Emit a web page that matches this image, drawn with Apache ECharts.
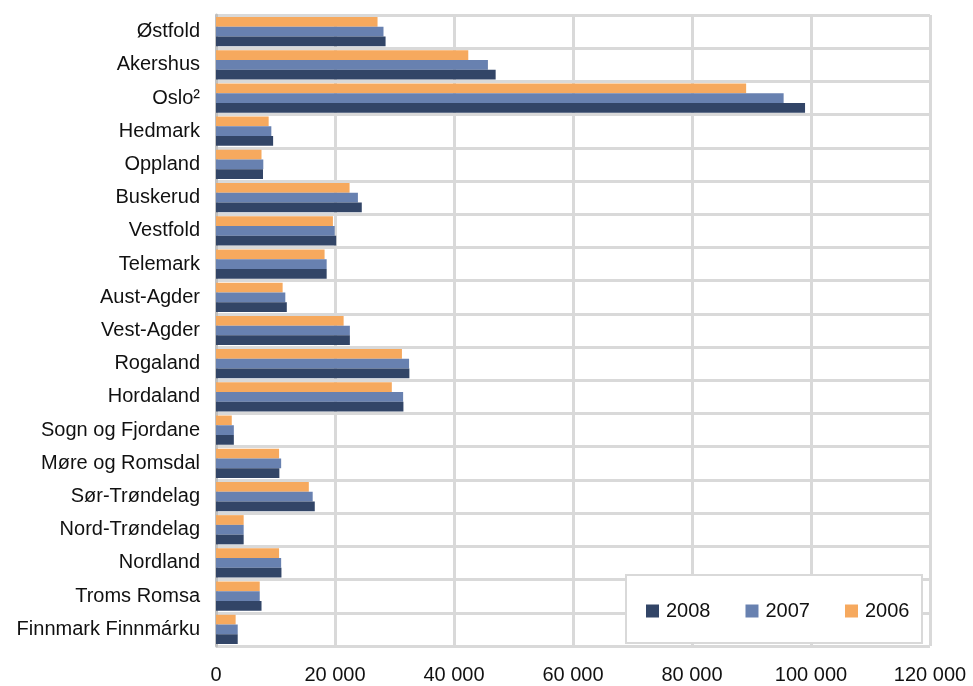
<!DOCTYPE html>
<html>
<head>
<meta charset="utf-8">
<script src="https://cdn.jsdelivr.net/npm/echarts@6/dist/echarts.min.js"></script>
<style>
	html, body { margin: 0; padding: 0; background: #fff; }
	#chart { width: 973px; height: 686px; }
</style>
</head>
<body>
<div id="chart"></div>
<script>
// fylker, ovenfra og ned
var fylker = ['Østfold', 'Akershus', 'Oslo²', 'Hedmark', 'Oppland', 'Buskerud', 'Vestfold',
	'Telemark', 'Aust-Agder', 'Vest-Agder', 'Rogaland', 'Hordaland', 'Sogn og Fjordane',
	'Møre og Romsdal', 'Sør-Trøndelag', 'Nord-Trøndelag', 'Nordland', 'Troms Romsa',
	'Finnmark Finnmárku'];

var aar = ['2008', '2007', '2006'];

var verdi2008 = [28500, 47000, 99000, 9600, 7900, 24500, 20200, 18600, 11900, 22500,
	32500, 31500, 3000, 10650, 16600, 4650, 11000, 7650, 3650];
var verdi2007 = [28150, 45700, 95400, 9300, 7950, 23850, 19950, 18600, 11650, 22500,
	32450, 31450, 3000, 10950, 16250, 4650, 10950, 7350, 3650];
var verdi2006 = [27150, 42400, 89100, 8850, 7650, 22450, 19650, 18250, 11200, 21450,
	31250, 29550, 2650, 10600, 15600, 4650, 10600, 7350, 3300];

var xTicks = { min: 0, max: 120000, interval: 20000 };

var farger = ['#324567', '#6881b0', '#f6a95e'];

var myChart = echarts.init(document.getElementById('chart'));

function tall(v) {
	return String(v).replace(/\B(?=(\d{3})+(?!\d))/g, ' ');
}

// 2006 øverst i hver gruppe, 2008 nederst
var serier = [verdi2008, verdi2007, verdi2006];
var seriesList = [];
for (var i = aar.length - 1; i >= 0; i--) {
	seriesList.push({
		name: aar[i],
		type: 'bar',
		data: serier[i],
		barGap: '0%',
		barCategoryGap: '12%',
		itemStyle: { color: farger[i] },
		animation: false,
		z: 3
	});
}

var option = {
	backgroundColor: '#fff',
	animation: false,
	textStyle: { fontFamily: '"Liberation Sans", Arial, sans-serif' },
	grid: { left: 216, right: 43, top: 15, bottom: 40, containLabel: false },
	xAxis: {
		type: 'value',
		min: xTicks.min,
		max: xTicks.max,
		interval: xTicks.interval,
		axisLine: { show: false },
		axisTick: { show: false },
		axisLabel: {
			color: '#111',
			fontSize: 20,
			margin: 19,
			formatter: function(v) { return tall(v); }
		},
		splitLine: { show: true, lineStyle: { color: '#d9d9d9', width: 3 } }
	},
	yAxis: {
		type: 'category',
		inverse: true,
		data: fylker,
		axisLine: { show: true, onZero: false, lineStyle: { color: '#c0c0c0', width: 3 } },
		axisTick: { show: false },
		axisLabel: { color: '#111', fontSize: 20, margin: 16 },
		splitLine: { show: true, interval: 0, lineStyle: { color: '#d9d9d9', width: 3 } }
	},
	graphic: [{
		type: 'rect',
		z: 50,
		shape: { x: 626, y: 575, width: 296, height: 68 },
		style: { fill: '#fff', stroke: '#d9d9d9', lineWidth: 2 }
	}],
	legend: {
		z: 60,
		data: aar,
		left: 641,
		top: 596,
		itemWidth: 13,
		itemHeight: 13,
		itemGap: 35,
		icon: 'rect',
		textStyle: { color: '#111', fontSize: 20, padding: [0, 0, 0, 2] }
	},
	series: seriesList
};

myChart.setOption(option);
</script>
</body>
</html>
